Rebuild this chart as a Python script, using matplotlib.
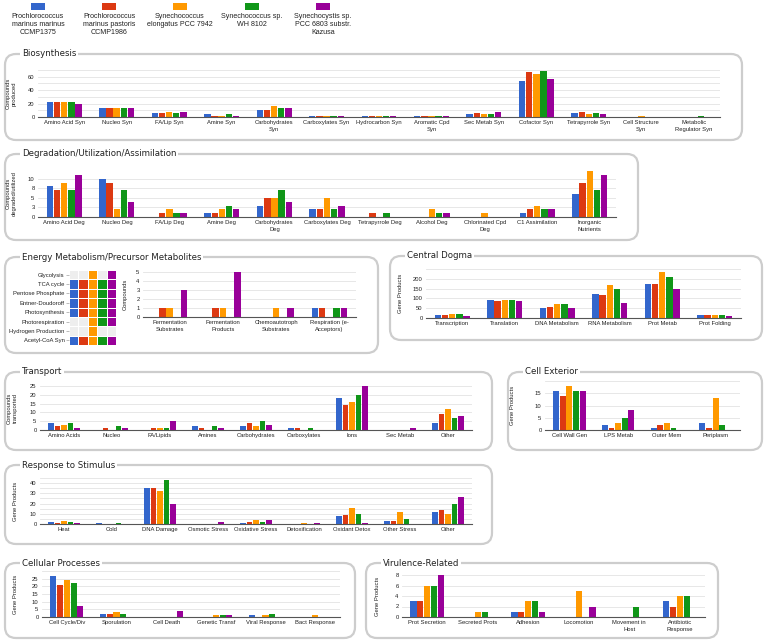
import numpy as np
import matplotlib
matplotlib.use("Agg")
import matplotlib.pyplot as plt
from matplotlib.patches import FancyBboxPatch, Rectangle
from matplotlib.colors import ListedColormap

W, H = 767, 643

strains = ["Prochlorococcus\nmarinus marinus\nCCMP1375",
           "Prochlorococcus\nmarinus pastoris\nCCMP1986",
           "Synechococcus\nelongatus PCC 7942",
           "Synechococcus sp.\nWH 8102",
           "Synechocystis sp.\nPCC 6803 substr.\nKazusa"]
colors = ["#3366cc", "#dc3912", "#ff9900", "#109618", "#990099"]

# values per category: [blue, red, orange, green, purple]
bio_cats = ["Amino Acid Syn", "Nucleo Syn", "FA/Lip Syn", "Amine Syn", "Carbohydrates\nSyn",
            "Carboxylates Syn", "Hydrocarbon Syn", "Aromatic Cpd\nSyn", "Sec Metab Syn",
            "Cofactor Syn", "Tetrapyrrole Syn", "Cell Structure\nSyn", "Metabolic\nRegulator Syn"]
bio_vals = [[22, 23, 23, 22, 20], [14, 13, 13, 13, 13], [6, 6, 7, 6, 8], [4, 2, 1, 5, 2],
            [11, 11, 16, 13, 13], [2, 2, 2, 2, 2], [1, 2, 2, 2, 2], [2, 1, 1, 1, 2],
            [5, 6, 5, 4, 7], [53, 67, 64, 69, 57], [6, 7, 5, 6, 5], [0, 0, 1, 0, 0],
            [0, 0, 0, 1, 0]]

deg_cats = ["Amino Acid Deg", "Nucleo Deg", "FA/Lip Deg", "Amine Deg", "Carbohydrates\nDeg",
            "Carboxylates Deg", "Tetrapyrrole Deg", "Alcohol Deg", "Chlorinated Cpd\nDeg",
            "C1 Assimilation", "Inorganic\nNutrients"]
deg_vals = [[8, 7, 9, 7, 11], [10, 9, 2, 7, 4], [0, 1, 2, 1, 1], [1, 1, 2, 3, 2],
            [3, 5, 5, 7, 4], [2, 2, 5, 2, 3], [0, 1, 0, 1, 0], [0, 0, 2, 1, 1],
            [0, 0, 1, 0, 0], [1, 2, 3, 2, 2], [6, 9, 12, 7, 11]]

path_rows = ["Glycolysis", "TCA cycle", "Pentose Phosphate", "Entner-Doudoroff",
             "Photosynthesis", "Photorespiration", "Hydrogen Production", "Acetyl-CoA Syn"]
path_presence = [[0, 0, 1, 0, 1], [1, 1, 1, 1, 1], [1, 1, 1, 1, 1], [1, 1, 1, 1, 1],
                 [1, 1, 1, 1, 1], [0, 0, 1, 1, 1], [0, 0, 1, 0, 0], [1, 1, 1, 1, 1]]

en_cats = ["Fermentation\nSubstrates", "Fermentation\nProducts", "Chemoautotroph\nSubstrates",
           "Respiration (e-\nAcceptors)"]
en_vals = [[0, 1, 1, 0, 3], [0, 1, 1, 0, 5], [0, 0, 1, 0, 1], [1, 1, 0, 1, 1]]

cd_cats = ["Transcription", "Translation", "DNA Metabolism", "RNA Metabolism", "Prot Metab",
           "Prot Folding"]
cd_vals = [[14, 14, 22, 19, 9], [91, 88, 91, 91, 88], [52, 55, 71, 71, 50],
           [122, 119, 167, 148, 76], [176, 171, 236, 209, 147], [14, 14, 17, 17, 9]]

tr_cats = ["Amino Acids", "Nucleo", "FA/Lipids", "Amines", "Carbohydrates", "Carboxylates",
           "Ions", "Sec Metab", "Other"]
tr_vals = [[4, 2, 3, 4, 1], [0, 1, 0, 2, 1], [0, 1, 1, 1, 5], [2, 1, 0, 2, 1],
           [2, 4, 2, 5, 3], [1, 1, 0, 1, 0], [18, 14, 16, 20, 25], [0, 0, 0, 0, 1],
           [4, 9, 12, 7, 8]]

ce_cats = ["Cell Wall Gen", "LPS Metab", "Outer Mem", "Periplasm"]
ce_vals = [[16, 14, 18, 16, 16], [2, 1, 3, 5, 8], [1, 2, 3, 1, 0], [3, 1, 13, 2, 0]]

rs_cats = ["Heat", "Cold", "DNA Damage", "Osmotic Stress", "Oxidative Stress",
           "Detoxification", "Oxidant Detox", "Other Stress", "Other"]
rs_vals = [[2, 1, 3, 2, 1], [1, 0, 0, 1, 0], [35, 35, 32, 43, 20], [0, 0, 0, 0, 2],
           [1, 2, 4, 2, 4], [0, 0, 1, 0, 1], [8, 9, 16, 10, 1], [3, 3, 12, 5, 0],
           [12, 14, 10, 20, 26]]

cp_cats = ["Cell Cycle/Div", "Sporulation", "Cell Death", "Genetic Transf", "Viral Response",
           "Bact Response"]
cp_vals = [[27, 21, 24, 22, 7], [2, 2, 3, 2, 0], [0, 0, 0, 0, 4], [0, 0, 1, 1, 1],
           [1, 0, 1, 2, 0], [0, 0, 1, 0, 0]]

vr_cats = ["Prot Secretion", "Secreted Prots", "Adhesion", "Locomotion", "Movement in\nHost",
           "Antibiotic\nResponse"]
vr_vals = [[3, 3, 6, 6, 8], [0, 0, 1, 1, 0], [1, 1, 3, 3, 1], [0, 0, 5, 0, 2],
           [0, 0, 0, 2, 0], [3, 2, 4, 4, 0]]

plt.rcParams['font.family'] = ['Liberation Sans', 'DejaVu Sans']
fig = plt.figure(figsize=(W / 100, H / 100), dpi=100)
bg = fig.add_axes([0, 0, 1, 1])
bg.set_xlim(0, W)
bg.set_ylim(H, 0)
bg.axis('off')

TICK = 4.2
TXT = '#222222'


def panel(x0, y0, x1, y1, title):
    bg.add_patch(FancyBboxPatch((x0, y0), x1 - x0, y1 - y0,
                                boxstyle="round,pad=0,rounding_size=11",
                                fc='white', ec='#cdcdcd', lw=1.6, zorder=1))
    bg.text(x0 + 17, y0, title, fontsize=6.2, family='DejaVu Sans', color='#222222',
            va='center', ha='left', zorder=2,
            bbox=dict(fc='white', ec='none', pad=1.2))


def add_ax(x0, x1, ytop, ybase):
    return fig.add_axes([x0 / W, 1 - ybase / H, (x1 - x0) / W, (ybase - ytop) / H])


def bar_panel(x0, x1, ytop, ybase, cats, vals, ylim, grid, labels, ylabel, ylab_px):
    ax = add_ax(x0, x1, ytop, ybase)
    v = np.array(vals, dtype=float).T
    n = len(cats)
    x = np.arange(n)
    gw = 0.68
    bw = gw / 5
    for j in range(5):
        ax.bar(x - gw / 2 + bw * (j + 0.5), v[j], width=bw * 0.9, color=colors[j], zorder=3)
    ax.set_xlim(-0.5, n - 0.5)
    ax.set_ylim(*ylim)
    ax.set_yticks(grid)
    ax.set_yticklabels(labels)
    ax.yaxis.grid(True, color='#e3e3e3', lw=0.6)
    ax.set_axisbelow(True)
    for s in ['top', 'right', 'left']:
        ax.spines[s].set_visible(False)
    ax.spines['bottom'].set_color('#555555')
    ax.spines['bottom'].set_linewidth(0.8)
    ax.spines['bottom'].set_zorder(4)
    ax.set_xticks(x)
    ax.set_xticklabels(cats, linespacing=1.5)
    ax.tick_params(axis='both', length=0, labelsize=TICK, colors=TXT, pad=2.5)
    ax.set_ylabel(ylabel, fontsize=TICK, color=TXT, linespacing=1.2)
    ax.yaxis.set_label_coords((ylab_px - x0) / (x1 - x0), 0.5)
    ax.patch.set_alpha(0)
    return ax


# Legend
leg_x = [38, 109, 180, 252, 323]
for cx, c, name in zip(leg_x, colors, strains):
    bg.add_patch(Rectangle((cx - 7, 3.3), 14, 6.8, fc=c, ec='none'))
    bg.text(cx, 12.5, name, fontsize=5.1, ha='center', va='top', color=TXT, linespacing=1.3)

# Biosynthesis
panel(5, 54, 742, 140, "Biosynthesis")
bar_panel(38, 720, 70, 117, bio_cats, bio_vals, (0, 70), list(range(0, 71, 10)),
          ["0", "", "20", "", "40", "", "60", ""], "Compounds\nproduced", 17)

# Degradation
panel(5, 154, 638, 240, "Degradation/Utilization/Assimilation")
bar_panel(38, 616, 170, 217, deg_cats, deg_vals, (0, 12.3), [0, 2.5, 5, 7.5, 10],
          ["0", "3", "5", "8", "10"], "Compounds\ndegraded/utilized", 17)

# Energy metabolism
panel(5, 257, 378, 353, "Energy Metabolism/Precursor Metabolites")
hm = add_ax(69, 116, 270, 345)
P = np.array(path_presence)
M = P * (np.arange(5) + 1)
cmap = ListedColormap(['#eeeeee'] + colors)
hm.pcolormesh(np.arange(6), np.arange(len(path_rows) + 1), M, cmap=cmap, vmin=-0.5, vmax=5.5,
              edgecolors='white', linewidth=0.5)
hm.set_ylim(len(path_rows), 0)
hm.set_xlim(0, 5)
hm.set_yticks(np.arange(len(path_rows)) + 0.5)
hm.set_yticklabels(path_rows)
hm.set_xticks([])
hm.tick_params(axis='y', length=2, width=0.4, color='#888888', labelsize=TICK, colors=TXT, pad=1)
for s in hm.spines.values():
    s.set_visible(False)
bar_panel(143, 356, 272, 317, en_cats, en_vals, (0, 5), [0, 1, 2, 3, 4, 5],
          ["0", "1", "2", "3", "4", "5"], "Compounds", 128)

# Central Dogma
panel(390, 256, 762, 340, "Central Dogma")
bar_panel(426, 741, 269, 318, cd_cats, cd_vals, (0, 250), [0, 50, 100, 150, 200, 250],
          ["0", "50", "100", "150", "200", ""], "Gene Products", 403)

# Transport
panel(5, 372, 492, 450, "Transport")
bar_panel(40, 472, 386, 430, tr_cats, tr_vals, (0, 25), [0, 5, 10, 15, 20, 25],
          ["0", "5", "10", "15", "20", "25"], "Compounds\ntransported", 18)

# Cell Exterior
panel(508, 372, 762, 450, "Cell Exterior")
bar_panel(545, 740, 381, 430, ce_cats, ce_vals, (0, 20), [0, 5, 10, 15, 20],
          ["0", "5", "10", "15", ""], "Gene Products", 515)

# Response to Stimulus
panel(5, 465, 492, 544, "Response to Stimulus")
bar_panel(40, 472, 478, 524, rs_cats, rs_vals, (0, 45), list(range(0, 46, 5)),
          ["0", "", "10", "", "20", "", "30", "", "40", ""], "Gene Products", 18)

# Cellular Processes
panel(5, 563, 355, 638, "Cellular Processes")
bar_panel(42, 340, 571, 617, cp_cats, cp_vals, (0, 30), [0, 5, 10, 15, 20, 25, 30],
          ["0", "5", "10", "15", "20", "25", ""], "Gene Products", 18)

# Virulence-Related
panel(366, 563, 718, 638, "Virulence-Related")
bar_panel(402, 705, 575, 617, vr_cats, vr_vals, (0, 8), [0, 2, 4, 6, 8],
          ["0", "2", "4", "6", "8"], "Gene Products", 380)

fig.savefig("out.png", dpi=100)
